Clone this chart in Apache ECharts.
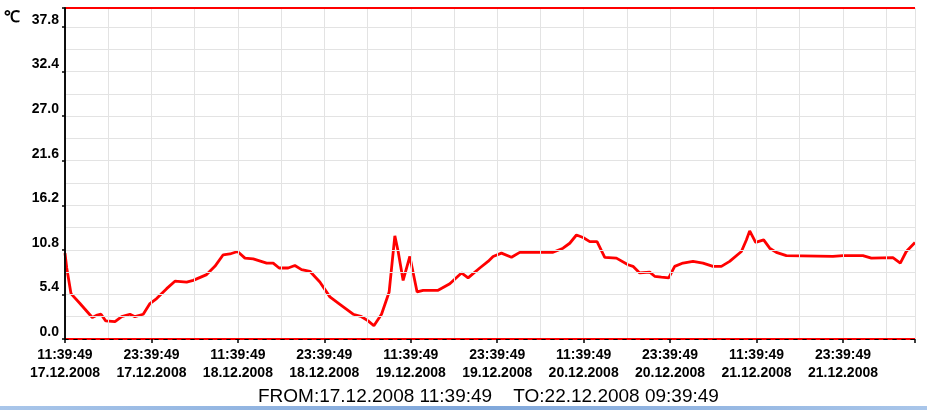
<!DOCTYPE html>
<html>
<head>
<meta charset="utf-8">
<script src="https://cdn.jsdelivr.net/npm/echarts@6/dist/echarts.min.js"></script>
<style>
html,body{margin:0;padding:0;background:#fff;}
#c{width:927px;height:410px;}
</style>
</head>
<body>
<div id="c"></div>
<script>
// hours elapsed since 17.12.2008 11:39:49
const hours = [
  0, 0.24, 0.83, 2.08, 3.79, 4.48, 5.0, 5.65, 6.94, 7.87,
  9.02, 9.71, 10.86, 11.79, 12.72, 14.11, 15.26, 16.89, 17.80, 19.66,
  20.81, 21.96, 22.89, 23.96, 24.98, 26.13, 27.99, 28.90, 29.73, 30.98,
  31.91, 32.84, 33.99, 35.38, 36.77, 38.16, 40.00, 41.17, 42.08, 42.88,
  43.94, 45.00, 45.79, 46.25, 46.94, 47.87, 48.88, 49.72, 51.80, 53.42,
  55.04, 55.96, 57.58, 58.73, 59.43, 60.59, 61.98, 63.13, 66.84, 67.75,
  69.14, 70.07, 71.00, 71.92, 72.85, 73.86, 74.93, 76.55, 78.16, 78.85,
  79.78, 81.17, 81.86, 82.79, 83.81, 84.64, 85.79, 87.18, 88.57, 89.96,
  91.12, 92.27, 93.90, 94.59, 95.05, 95.88, 96.99, 97.83, 98.75, 100.14,
  106.61, 108.0, 110.77, 111.94, 114.93, 115.96, 116.79, 118
];
const temps = [
  10.4, 8.6, 5.5, 4.3, 2.6, 2.9, 3.0, 2.2, 2.1, 2.7,
  3.0, 2.7, 3.0, 4.3, 4.9, 6.1, 7.0, 6.9, 7.1, 7.8,
  8.8, 10.2, 10.3, 10.6, 9.8, 9.7, 9.2, 9.2, 8.6, 8.6,
  8.9, 8.4, 8.2, 6.9, 5.1, 4.2, 3.0, 2.7, 2.2, 1.6,
  3.0, 5.7, 12.5, 10.6, 7.1, 10.0, 5.7, 5.9, 5.9, 6.7,
  8.0, 7.4, 8.6, 9.4, 10.0, 10.4, 9.9, 10.5, 10.5, 10.5,
  11.0, 11.6, 12.6, 12.3, 11.8, 11.8, 9.9, 9.8, 9.0, 8.8,
  8.0, 8.1, 7.6, 7.5, 7.4, 8.8, 9.2, 9.4, 9.2, 8.8,
  8.8, 9.4, 10.6, 12.0, 13.1, 11.7, 12.0, 11.0, 10.5, 10.1,
  10.0, 10.1, 10.1, 9.8, 9.85, 9.2, 10.6, 11.7
];
const xTickLabels = [
  '11:39:49\n17.12.2008', '23:39:49\n17.12.2008',
  '11:39:49\n18.12.2008', '23:39:49\n18.12.2008',
  '11:39:49\n19.12.2008', '23:39:49\n19.12.2008',
  '11:39:49\n20.12.2008', '23:39:49\n20.12.2008',
  '11:39:49\n21.12.2008', '23:39:49\n21.12.2008'
];
const yTickValues = [0.0, 5.4, 10.8, 16.2, 21.6, 27.0, 32.4, 37.8];
const unitLabel = '℃';
const footerText = 'FROM:17.12.2008 11:39:49    TO:22.12.2008 09:39:49';
const xMax = 118;
const yMax = 40.1;
const lowLimit = 0;
const highLimit = 40.1;

const chart = echarts.init(document.getElementById('c'), null, {renderer: 'canvas'});
const gridColor = '#e3e3e3';
const fontFam = '"Liberation Sans", Arial, sans-serif';

const option = {
  animation: false,
  backgroundColor: '#ffffff',
  title: {
    text: footerText,
    left: 253, top: 382,
    textStyle: {fontFamily: fontFam, fontSize: 19, fontWeight: 'normal', color: '#000'}
  },
  graphic: [
    {type: 'text', left: 4, top: 10, style: {text: unitLabel, fontFamily: fontFam, fontSize: 16, fontWeight: 'bold', fill: '#000'}},
    {type: 'rect', left: 0, top: 406, shape: {width: 927, height: 4},
     style: {fill: new echarts.graphic.LinearGradient(0, 0, 1, 0, [{offset: 0, color: '#a9c6ea'}, {offset: 0.5, color: '#7ea6da'}, {offset: 1, color: '#a9c6ea'}])}}
  ],
  grid: {left: 65, right: 12, top: 8, bottom: 71, containLabel: false},
  xAxis: [
    {
      type: 'value', position: 'bottom', min: 0, max: xMax, interval: 12, z: 5,
      axisLine: {show: true, lineStyle: {color: '#000', width: 1, type: [3, 6]}},
      axisTick: {show: true, length: 4, lineStyle: {color: '#000', width: 1.5}},
      splitLine: {show: false},
      axisLabel: {
        margin: 7, color: '#000', fontFamily: fontFam, fontSize: 14, fontWeight: 'bold', lineHeight: 18,
        formatter: function (v) {
          const i = Math.round(v / 12);
          if (Math.abs(v - i * 12) > 1e-6) return '';
          return xTickLabels[i] || '';
        }
      }
    },
    {
      type: 'value', position: 'top', min: 0, max: xMax, interval: 6, z: 5,
      axisLine: {show: true, lineStyle: {color: '#000', width: 1, type: [3, 6]}},
      axisTick: {show: false}, axisLabel: {show: false},
      splitLine: {show: true, lineStyle: {color: gridColor, width: 1}}
    }
  ],
  yAxis: [
    {
      type: 'value', position: 'left', min: 0, max: yMax, interval: 5.4, z: 5,
      axisLine: {show: true, lineStyle: {color: '#000', width: 1.5}},
      axisTick: {show: true, length: 3, lineStyle: {color: '#000', width: 1.5}},
      splitLine: {show: false},
      axisLabel: {
        margin: 6, color: '#000', fontFamily: fontFam, fontSize: 14, fontWeight: 'bold',
        verticalAlign: 'bottom',
        formatter: function (v) {
          for (let k = 0; k < yTickValues.length; k++) {
            if (Math.abs(v - yTickValues[k]) < 1e-6) return yTickValues[k].toFixed(1);
          }
          return '';
        }
      }
    },
    {
      type: 'value', position: 'right', min: 0, max: yMax, interval: 2.7, z: 5,
      axisLine: {show: true, lineStyle: {color: '#000', width: 1.5}},
      axisTick: {show: false}, axisLabel: {show: false},
      splitLine: {show: true, lineStyle: {color: gridColor, width: 1}}
    }
  ],
  series: [
    {
      type: 'line', xAxisIndex: 0, yAxisIndex: 0,
      data: hours.map((h, i) => [h, temps[i]]),
      showSymbol: false, symbol: 'none',
      lineStyle: {color: '#ff0000', width: 2.8},
      z: 3,
      markLine: {
        silent: true, symbol: 'none', animation: false,
        label: {show: false},
        lineStyle: {color: '#ff0000', width: 2, type: 'solid'},
        data: [{yAxis: lowLimit}, {yAxis: highLimit}]
      }
    }
  ]
};
chart.setOption(option);
</script>
</body>
</html>
